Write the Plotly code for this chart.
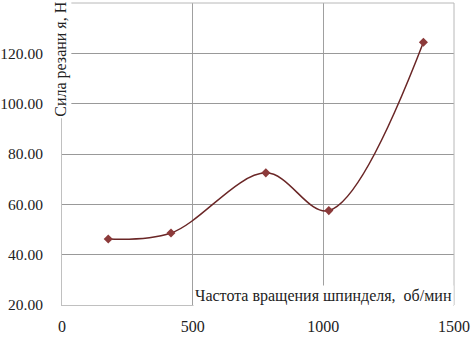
import plotly.graph_objects as go

rpm = [177, 417, 780, 1021, 1383]
force = [46.2, 48.6, 72.5, 57.5, 124.4]
x_ticks = [0, 500, 1000, 1500]
y_ticks = [20, 40, 60, 80, 100, 120]
y_tick_text = ["20.00", "40.00", "60.00", "80.00", "100.00", "120.00"]

FONT = "'Liberation Serif', 'DejaVu Serif', serif"

fig = go.Figure()
fig.add_trace(go.Scatter(
    x=rpm, y=force, mode="lines+markers",
    line=dict(shape="spline", smoothing=1.0, color="#6a2626", width=1.5),
    marker=dict(symbol="diamond", size=7, color="#8c3a3a"),
    hoverinfo="skip", showlegend=False,
))

fig.update_layout(
    width=472, height=338,
    margin=dict(l=62, r=18, t=3, b=33, autoexpand=False),
    paper_bgcolor="white", plot_bgcolor="white",
    font=dict(family=FONT, size=15.5, color="#222"),
    xaxis=dict(range=[0, 1500], tickvals=x_ticks, showgrid=True,
               gridcolor="#a0a0a0", gridwidth=1, zeroline=False,
               showline=True, linecolor="#c0c0c0", mirror=False,
               ticks="", ticklabelstandoff=7,
               tickfont=dict(family=FONT, size=16, color="#222")),
    yaxis=dict(range=[20, 140], tickvals=y_ticks, ticktext=y_tick_text,
               showgrid=True, gridcolor="#999999", gridwidth=1,
               zeroline=False, showline=True, linecolor="#c0c0c0",
               ticks="", ticklabelstandoff=15,
               tickfont=dict(family=FONT, size=15.5, color="#222")),
    shapes=[dict(type="line", xref="paper", yref="paper", x0=0, x1=1,
                 y0=1, y1=1, line=dict(color="#b8b8b8", width=1)),
            dict(type="line", xref="paper", yref="paper", x0=1, x1=1,
                 y0=0, y1=1, line=dict(color="#b8b8b8", width=1))],
    annotations=[
        dict(text="Частота вращения шпинделя,  об/мин", xref="paper",
             yref="paper", x=1.0, y=0.03, xanchor="right", yanchor="middle",
             showarrow=False, bgcolor="white",
             font=dict(family=FONT, size=16, color="#222")),
        dict(text="Сила резани я, Н", xref="paper", yref="paper",
             x=-0.003, y=0.616, xanchor="center", yanchor="bottom",
             textangle=-90, showarrow=False, bgcolor="white",
             font=dict(family=FONT, size=16, color="#222")),
    ],
)

fig.write_html("out.html", config={"displayModeBar": False},
               post_script="document.body.style.margin='0';document.body.style.padding='0';")
